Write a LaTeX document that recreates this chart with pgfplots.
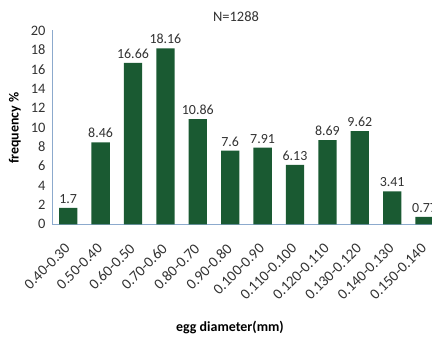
\documentclass[border=0pt]{standalone}
\usepackage{fontspec}
\setmainfont{Carlito}
\usepackage{pgfplots}
\pgfplotsset{compat=1.18}
\definecolor{bargreen}{RGB}{26,90,50}
\definecolor{axisblue}{RGB}{140,170,205}
\definecolor{txt}{RGB}{50,50,50}
\begin{document}
\begin{tikzpicture}[x=1bp,y=1bp]
\path[use as bounding box] (0,0) rectangle (432,338);
\clip (0,0) rectangle (432,338);
\begin{axis}[
  at={(52bp,113.7bp)}, anchor=south west,
  scale only axis, width=388.8bp, height=193.8bp,
  xmin=-0.5, xmax=11.5, ymin=0, ymax=20,
  ytick={0,2,...,20},
  xtick={0,...,11},
  xticklabels={0.40-0.30,0.50-0.40,0.60-0.50,0.70-0.60,0.80-0.70,0.90-0.80,0.100-0.90,0.110-0.100,0.120-0.110,0.130-0.120,0.140-0.130,0.150-0.140},
  axis lines*=left,
  axis line style={draw=axisblue, line width=0.8bp},
  major tick length=0pt,
  /pgf/number format/assume math mode=true,
  yticklabel style={font=\fontsize{14.5}{14.5}\selectfont, text=txt},
  yticklabel shift=3bp,
  xticklabel style={font=\fontsize{15}{15}\selectfont, text=txt, rotate=45, anchor=east, inner sep=1bp},
  xticklabel shift=21bp,
  ybar, bar width=18.3bp,
  point meta=explicit symbolic,
  nodes near coords,
  nodes near coords style={font=\fontsize{14}{14}\selectfont, text=txt, anchor=south, yshift=1bp},
]
\addplot[fill=bargreen, draw=none] coordinates {
  (0,1.7) [1.7]
  (1,8.46) [8.46]
  (2,16.66) [16.66]
  (3,18.16) [18.16]
  (4,10.86) [10.86]
  (5,7.6) [7.6]
  (6,7.91) [7.91]
  (7,6.13) [6.13]
  (8,8.69) [8.69]
  (9,9.62) [9.62]
  (10,3.41) [3.41]
  (11,0.77) [0.77]
};
\end{axis}
\node[font=\fontsize{14.5}{14.5}\selectfont, text=txt] at (236,321) {N=1288};
\node[font=\bfseries\fontsize{14}{14}\selectfont, rotate=90, text=black] at (15,210) {frequency \%};
\node[font=\bfseries\fontsize{14}{14}\selectfont, text=black] at (230,10) {egg diameter(mm)};
\end{tikzpicture}
\end{document}
